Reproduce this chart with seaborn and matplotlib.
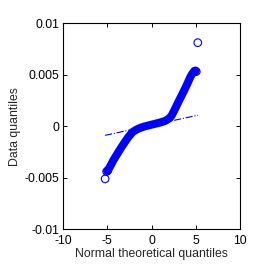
import numpy as np
import pandas as pd
import seaborn as sns
import matplotlib.pyplot as plt

# Quantile curve (theoretical vs data quantiles)
theo_q = [-4.99, -4.65, -4.32, -4.03, -3.75, -3.47, -3.19, -2.90, -2.62,
          -2.37, -2.13, -1.80, -1.49, -1.10, -0.73, -0.35, 0.02, 0.40,
          0.77, 1.15, 1.53, 1.82, 2.09, 2.32, 2.54, 2.78, 3.03, 3.32,
          3.60, 3.83, 4.05, 4.25, 4.43, 4.62, 4.80, 4.98]
data_q = [-0.00434, -0.00385, -0.0033, -0.0029, -0.0025, -0.00212, -0.00175,
          -0.00139, -0.00104, -0.00078, -0.00055, -0.00037, -0.00023,
          -0.0001, 0.0, 0.00008, 0.00016, 0.00024, 0.00032, 0.00041,
          0.00052, 0.00066, 0.00084, 0.00112, 0.00149, 0.00191, 0.00236,
          0.00285, 0.00333, 0.00374, 0.00414, 0.00452, 0.00485, 0.00512,
          0.00532, 0.00538]

# Extreme points drawn as separate circles
tail_x = [-5.25, -5.08, -4.95, 4.92, 5.05, 5.22]
tail_y = [-0.0051, -0.00438, -0.0043, 0.00535, 0.0053, 0.0081]

# Reference line ends
ref_x = [-5.25, 5.22]
ref_y = [-0.00088, 0.00107]

xticks = [-10, -5, 0, 5, 10]
xtick_labels = ["-10", "-5", "0", "5", "10"]
yticks = [-0.01, -0.005, 0, 0.005, 0.01]
ytick_labels = ["-0.01", "-0.005", "0", "0.005", "0.01"]

sns.set_style("ticks")
plt.rcParams['font.family'] = ['Liberation Sans', 'DejaVu Sans']

curve = pd.DataFrame({'x': theo_q, 'y': data_q})
tails = pd.DataFrame({'x': tail_x, 'y': tail_y})
ref = pd.DataFrame({'x': ref_x, 'y': ref_y})

fig = plt.figure(figsize=(2.65, 2.65), dpi=100)
ax = fig.add_axes([0.238, 0.134, 0.668, 0.779])

sns.lineplot(data=ref, x='x', y='y', ax=ax, color='blue', lw=0.8,
             linestyle='-.', sort=False, estimator=None)
sns.lineplot(data=curve, x='x', y='y', ax=ax, color='blue', lw=5.8,
             sort=False, estimator=None, solid_capstyle='round',
             solid_joinstyle='round')
sns.scatterplot(data=tails, x='x', y='y', ax=ax, marker='o', s=30,
                facecolors='none', edgecolor='blue', linewidth=0.8)

ax.set_xlim(-10, 10)
ax.set_ylim(-0.01, 0.01)
ax.set_xticks(xticks)
ax.set_xticklabels(xtick_labels)
ax.set_yticks(yticks)
ax.set_yticklabels(ytick_labels)
ax.tick_params(direction='in', top=True, right=True, length=2.6, width=0.7,
               labelsize=8.8, colors='black', pad=3)
ax.tick_params(axis='x', pad=4)
for sp in ax.spines.values():
    sp.set_visible(True)
    sp.set_linewidth(0.8)
    sp.set_color('black')

ax.set_xlabel('Normal theoretical quantiles', fontsize=8.8, labelpad=1)
ax.set_ylabel('Data quantiles', fontsize=8.8, labelpad=2)

fig.savefig('out.png', dpi=100)
